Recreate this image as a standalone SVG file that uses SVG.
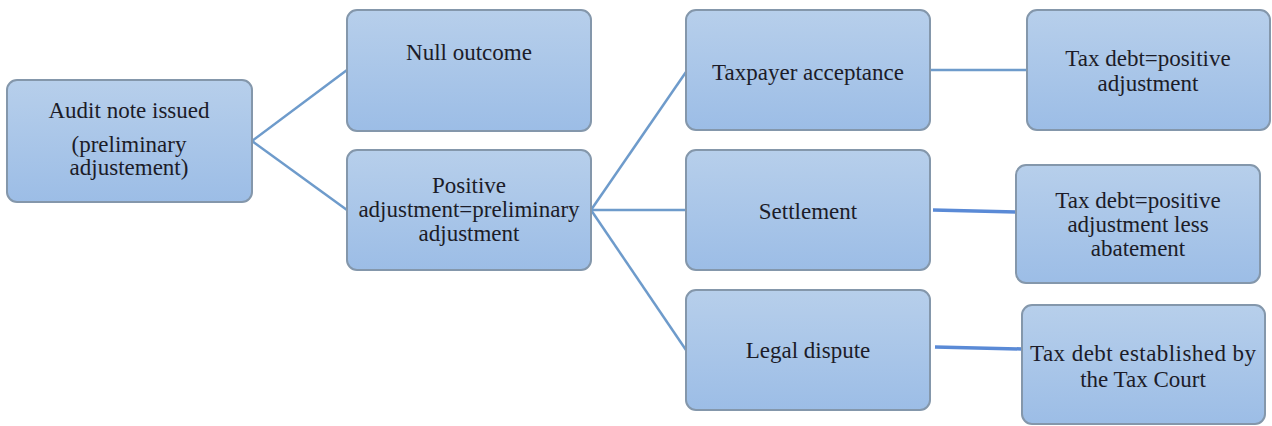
<svg xmlns="http://www.w3.org/2000/svg" width="1272" height="426" viewBox="0 0 1272 426">
<defs>
<linearGradient id="g" x1="0" y1="0" x2="0" y2="1">
<stop offset="0" stop-color="#b7cfeb"/>
<stop offset="1" stop-color="#9cbde6"/>
</linearGradient>
</defs>
<style>
.box{fill:url(#g);stroke:#8497ab;stroke-width:2}
.t{font-family:"Liberation Serif","Times New Roman",serif;font-size:23px;fill:#1c1c28;text-anchor:middle}
.c{stroke:#6e9bcb;stroke-width:2.5;fill:none}
.c2{stroke:#5a8ad6;stroke-width:3.5;fill:none}
</style>
<rect width="1272" height="426" fill="#ffffff"/>
<g id="connectors">
<line class="c" x1="252" y1="141" x2="347" y2="70"/>
<line class="c" x1="252" y1="141" x2="347" y2="210"/>
<line class="c" x1="591" y1="210" x2="686" y2="72"/>
<line class="c" x1="591" y1="210" x2="686" y2="210"/>
<line class="c" x1="591" y1="210" x2="686" y2="350"/>
<line class="c" x1="930" y1="70" x2="1027" y2="70"/>
<line class="c2" x1="933" y1="210" x2="1016" y2="212"/>
<line class="c2" x1="935" y1="347" x2="1022" y2="349"/>
</g>
<g id="audit">
<rect class="box" x="7" y="80" width="245" height="122" rx="10"/>
<text class="t" x="129" y="118">Audit note issued</text>
<text class="t" x="129" y="152">(preliminary</text>
<text class="t" x="129" y="175">adjustement)</text>
</g>
<g id="null">
<rect class="box" x="347" y="10" width="244" height="121" rx="10"/>
<text class="t" x="469" y="60">Null  outcome</text>
</g>
<g id="positive">
<rect class="box" x="347" y="150" width="244" height="120" rx="10"/>
<text class="t" x="469" y="193">Positive</text>
<text class="t" x="469" y="217">adjustment=preliminary</text>
<text class="t" x="469" y="241">adjustment</text>
</g>
<g id="taxpayer">
<rect class="box" x="686" y="10" width="244" height="120" rx="10"/>
<text class="t" x="808" y="80">Taxpayer acceptance</text>
</g>
<g id="settlement">
<rect class="box" x="686" y="150" width="244" height="120" rx="10"/>
<text class="t" x="808" y="219">Settlement</text>
</g>
<g id="legal">
<rect class="box" x="686" y="290" width="244" height="120" rx="10"/>
<text class="t" x="808" y="358">Legal  dispute</text>
</g>
<g id="debt1">
<rect class="box" x="1027" y="10" width="243" height="120" rx="10"/>
<text class="t" x="1148" y="66">Tax debt=positive</text>
<text class="t" x="1148" y="91">adjustment</text>
</g>
<g id="debt2">
<rect class="box" x="1016" y="165" width="244" height="118" rx="10"/>
<text class="t" x="1138" y="208">Tax debt=positive</text>
<text class="t" x="1138" y="232">adjustment  less</text>
<text class="t" x="1138" y="256">abatement</text>
</g>
<g id="debt3">
<rect class="box" x="1022" y="305" width="243" height="119" rx="10"/>
<text class="t" x="1143" y="361" textLength="226">Tax debt established by</text>
<text class="t" x="1143" y="387">the Tax Court</text>
</g>
</svg>
